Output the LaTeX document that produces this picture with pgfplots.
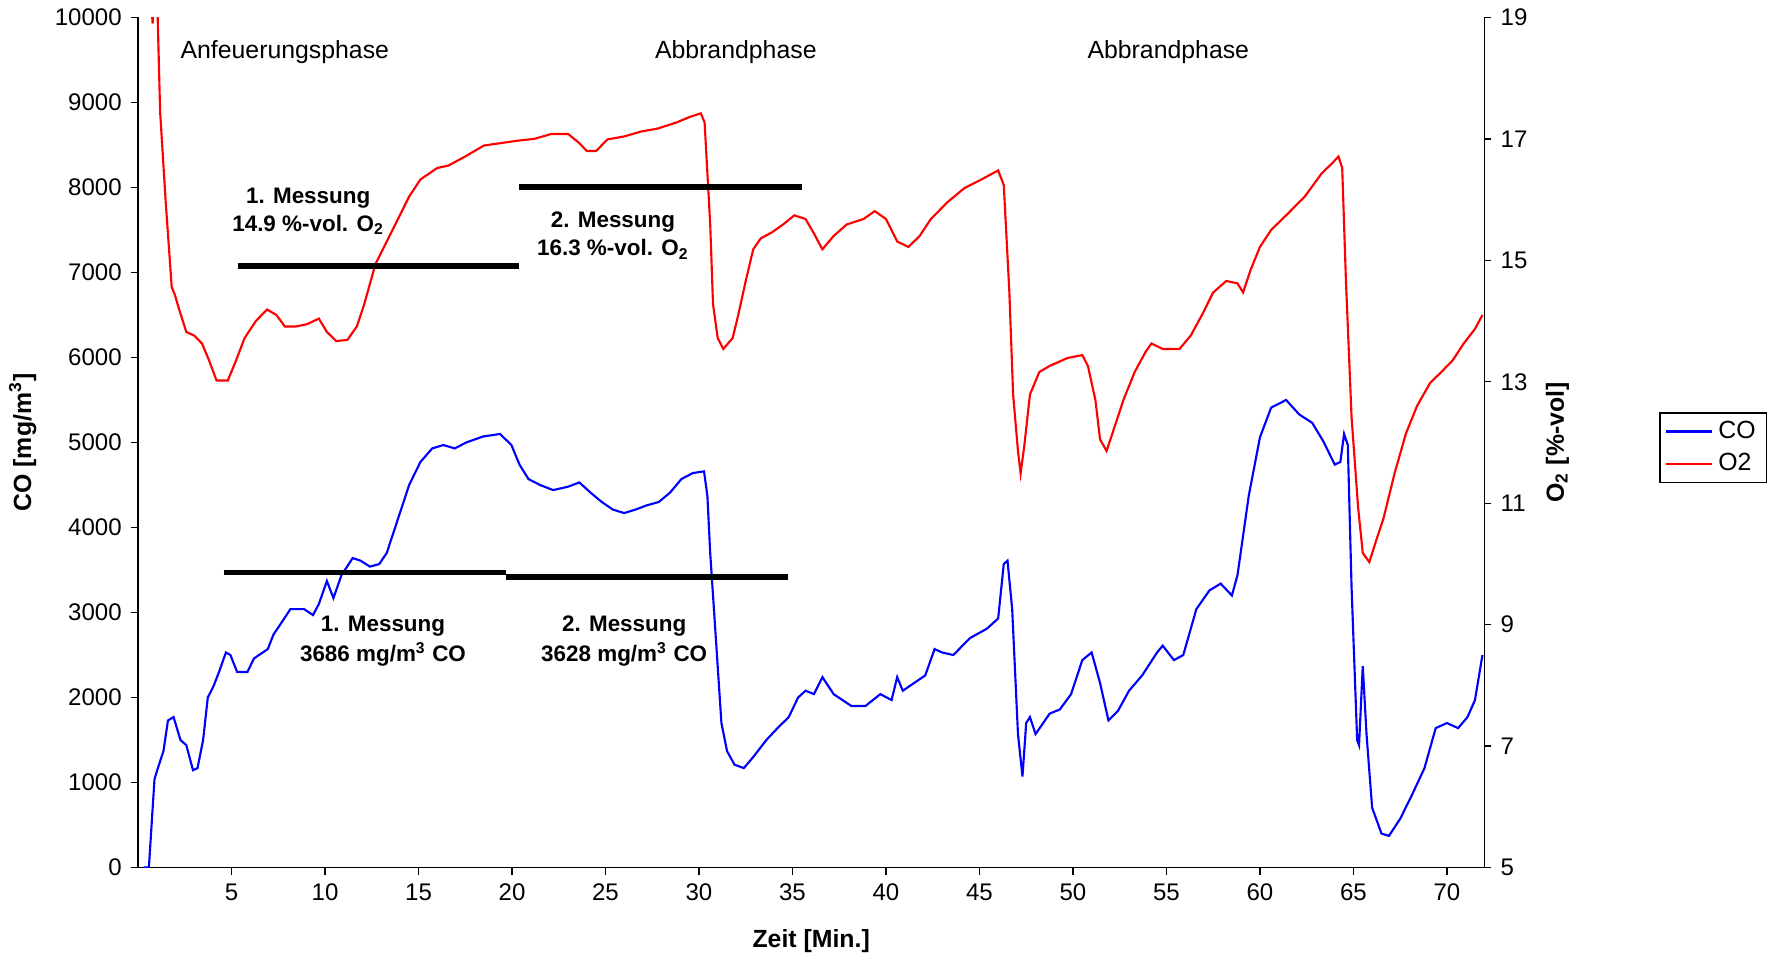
\documentclass[border=0pt]{standalone}
\usepackage{fontspec}
\setmainfont{Liberation Sans}
\setsansfont{Liberation Sans}
\usepackage{pgfplots}
\pgfplotsset{compat=1.18}

\pgfplotsset{
  chartbase/.style={
    width=17.72cm, height=11.19cm, scale only axis,
    xmin=0, xmax=72,
    tick align=outside,
    major tick length=2.6pt,
    /pgf/number format/assume math mode=true,
    /pgf/number format/1000 sep={},
    tick label style={font=\fontsize{9}{10}\selectfont},
    label style={font=\fontsize{9.3}{10}\selectfont\bfseries},
    axis line style={black, line width=0.5pt},
    tick style={black, line width=0.5pt},
    clip=true,
  },
}

\begin{document}
\begin{tikzpicture}
% left axis: CO
\begin{axis}[
    chartbase,
    ymin=0, ymax=10000,
    axis x line*=bottom,
    axis y line*=left,
    xtick={5,10,...,70},
    ytick={0,1000,...,10000},
    scaled y ticks=false,
    xlabel={Zeit [Min.]},
    ylabel={CO [mg/m\textsuperscript{3}]},
    xlabel style={yshift=-4pt},
]
\addplot[blue, line width=0.8pt] coordinates {
(0.3,0) (0.58,0) (0.88,1040) (1.06,1170) (1.36,1370) (1.6,1730) (1.9,1770)
(2.27,1500) (2.58,1440) (2.94,1145) (3.18,1170) (3.48,1500) (3.73,2000)
(4.03,2130) (4.33,2300) (4.7,2530) (4.94,2500) (5.3,2300) (5.85,2300)
(6.2,2460) (6.94,2570) (7.24,2740) (7.67,2880) (8.15,3040) (8.88,3040)
(9.36,2970) (9.67,3100) (10.1,3370) (10.45,3170) (10.88,3440) (11.48,3640)
(11.9,3610) (12.4,3540) (12.9,3570) (13.3,3700) (13.9,4100) (14.5,4500)
(15.1,4770) (15.73,4930) (16.33,4970) (16.94,4930) (17.55,5000) (18.45,5070)
(19.36,5100) (19.97,4970) (20.4,4740) (20.88,4570) (21.5,4500) (22.2,4440)
(23.0,4480) (23.6,4530) (24.2,4410) (24.8,4300) (25.4,4210) (26.0,4170)
(26.6,4210) (27.2,4260) (27.85,4300) (28.45,4410) (29.06,4570) (29.67,4640)
(30.27,4660) (30.45,4370) (30.6,3700) (30.88,2770) (31.2,1700) (31.5,1370)
(31.9,1210) (32.4,1170) (32.9,1300) (33.6,1500) (34.2,1640) (34.8,1770)
(35.3,2000) (35.7,2080) (36.15,2040) (36.6,2240) (37.2,2040) (38.15,1900)
(38.9,1900) (39.7,2040) (40.3,1970) (40.6,2240) (40.9,2080) (41.5,2170)
(42.1,2260) (42.6,2570) (43.0,2530) (43.6,2500) (44.5,2700) (45.4,2810)
(46.0,2930) (46.3,3570) (46.5,3610) (46.75,3040) (47.06,1570) (47.3,1070)
(47.5,1700) (47.7,1770) (48.0,1570) (48.75,1810) (49.3,1860) (49.9,2040)
(50.5,2440) (51.0,2530) (51.45,2170) (51.9,1730) (52.4,1840) (53.0,2080)
(53.7,2260) (54.5,2530) (54.8,2610) (55.4,2440) (55.9,2500) (56.6,3040)
(57.3,3260) (57.9,3340) (58.5,3200) (58.8,3440) (59.4,4370) (60.0,5060)
(60.6,5410) (61.4,5500) (62.1,5330) (62.8,5230) (63.4,5010) (64.0,4740)
(64.3,4770) (64.5,5100) (64.7,4970) (64.9,3300) (65.2,1500) (65.3,1440)
(65.5,2370) (65.7,1570) (66.0,705) (66.5,400) (66.9,373) (67.5,573)
(68.1,840) (68.8,1170) (69.4,1640) (70.0,1700) (70.6,1640) (71.1,1770)
(71.5,1970) (71.9,2500)
};
% CO measurement bars
\addplot[black, line width=2.2pt] coordinates {(4.58,3470) (19.67,3470)};
\addplot[black, line width=2.2pt] coordinates {(19.67,3420) (34.76,3420)};

\node[font=\fontsize{9.3}{10}\selectfont] at (axis cs:7.85,9590) {Anfeuerungsphase};
\node[font=\fontsize{9.3}{10}\selectfont] at (axis cs:31.97,9590) {Abbrandphase};
\node[font=\fontsize{9.3}{10}\selectfont] at (axis cs:55.1,9590) {Abbrandphase};
\node[font=\fontsize{8.4}{10.5}\selectfont\bfseries, align=center] at (axis cs:9.1,7720)
  {1. Messung\\14.9 \%-vol. O\textsubscript{2}};
\node[font=\fontsize{8.4}{10.5}\selectfont\bfseries, align=center] at (axis cs:25.4,7430)
  {2. Messung\\16.3 \%-vol. O\textsubscript{2}};
\node[font=\fontsize{8.4}{11}\selectfont\bfseries, align=center] at (axis cs:13.1,2665)
  {1. Messung\\3686 mg/m\textsuperscript{3} CO};
\node[font=\fontsize{8.4}{11}\selectfont\bfseries, align=center] at (axis cs:26.0,2665)
  {2. Messung\\3628 mg/m\textsuperscript{3} CO};
\end{axis}

% right axis: O2
\begin{axis}[
    chartbase,
    ymin=5, ymax=19,
    axis x line=none,
    axis y line*=right,
    ytick={5,7,...,19},
    ylabel={O\textsubscript{2} [\%-vol]},
    legend style={
      at={(rel axis cs:1.13,0.494)}, anchor=west,
      draw=black, line width=0.5pt,
      font=\fontsize{9.3}{10}\selectfont,
      inner xsep=2pt, inner ysep=1pt, row sep=0pt,
    },
    legend cell align=left,
]
\addlegendimage{blue, line width=0.8pt}
\addlegendentry{CO}
\addplot[red, line width=0.8pt] coordinates {
(0.7,19.3) (0.78,18.9) (0.86,19.3) (1.05,19.0) (1.18,17.45) (1.48,15.96)
(1.8,14.56) (1.97,14.43) (2.2,14.19) (2.58,13.82) (3.0,13.76) (3.42,13.63)
(3.8,13.35) (4.2,13.02) (4.8,13.02) (5.24,13.35) (5.7,13.72) (6.3,14.0)
(6.9,14.19) (7.4,14.1) (7.85,13.91) (8.45,13.91) (9.06,13.95) (9.67,14.04)
(10.1,13.82) (10.6,13.67) (11.2,13.69) (11.7,13.91) (12.1,14.28) (12.7,14.94)
(13.3,15.31) (13.9,15.68) (14.5,16.05) (15.1,16.33) (16.0,16.52) (16.6,16.56)
(17.5,16.71) (18.5,16.89) (19.4,16.93) (20.3,16.97) (21.2,17.0) (22.1,17.08)
(23.0,17.08) (23.6,16.93) (24.0,16.8) (24.5,16.8) (25.1,16.99) (26.0,17.04)
(26.9,17.12) (27.8,17.17) (28.8,17.27) (29.5,17.36) (30.1,17.42) (30.3,17.27)
(30.6,15.59) (30.75,14.28) (31.0,13.72) (31.3,13.54) (31.8,13.72) (32.1,14.1)
(32.5,14.66) (32.9,15.18) (33.3,15.36) (33.9,15.46) (34.5,15.59) (35.1,15.74)
(35.7,15.68) (36.15,15.44) (36.6,15.18) (37.2,15.4) (37.9,15.59) (38.8,15.68)
(39.4,15.81) (40.0,15.68) (40.6,15.31) (41.2,15.22) (41.8,15.4) (42.4,15.68)
(43.3,15.96) (44.2,16.19) (45.1,16.33) (46.0,16.48) (46.3,16.24) (46.6,14.47)
(46.8,12.79) (47.06,11.86) (47.2,11.49) (47.4,11.95) (47.7,12.79) (48.2,13.16)
(48.75,13.26) (49.7,13.39) (50.5,13.44) (50.8,13.26) (51.2,12.7) (51.45,12.05)
(51.8,11.86) (52.1,12.14) (52.7,12.7) (53.3,13.16) (53.9,13.5) (54.2,13.63)
(54.8,13.54) (55.7,13.54) (56.3,13.76) (56.9,14.1) (57.5,14.47) (58.2,14.66)
(58.8,14.62) (59.1,14.47) (59.5,14.84) (60.0,15.22) (60.6,15.5) (61.5,15.77)
(62.4,16.05) (63.3,16.43) (63.9,16.61) (64.2,16.71) (64.4,16.52) (64.6,14.66)
(64.9,12.42) (65.25,10.93) (65.5,10.18) (65.85,10.03) (66.2,10.37) (66.6,10.74)
(67.2,11.49) (67.8,12.14) (68.4,12.6) (69.1,12.98) (69.7,13.16) (70.3,13.35)
(70.9,13.63) (71.5,13.87) (71.9,14.1)
};
\addlegendentry{O2}
% O2 measurement bars
\addplot[black, line width=2.2pt, forget plot] coordinates {(5.36,14.9) (20.4,14.9)};
\addplot[black, line width=2.2pt, forget plot] coordinates {(20.4,16.2) (35.5,16.2)};
\end{axis}
\end{tikzpicture}
\end{document}
